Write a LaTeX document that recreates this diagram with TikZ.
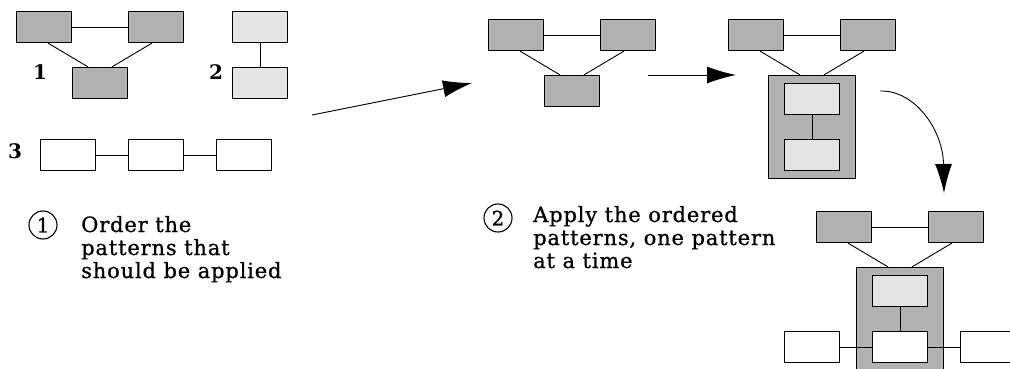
\documentclass[tikz,border=0pt]{standalone}
\usepackage{fontspec}
\newfontfamily\capfont{DejaVu Serif}[LetterSpace=4, FakeBold=0.8]
\newfontfamily\numfont{DejaVu Serif}
\usetikzlibrary{arrows.meta}
\definecolor{darkbox}{gray}{0.70}
\definecolor{lightbox}{gray}{0.90}
\tikzset{
  box/.style={draw, line width=1.2pt, minimum width=55pt, minimum height=31pt, inner sep=0pt},
  dark/.style={box, fill=darkbox},
  light/.style={box, fill=lightbox},
  plain/.style={box, fill=white},
  holder/.style={draw, line width=1.2pt, fill=darkbox, minimum width=87pt, minimum height=103pt, inner sep=0pt},
  link/.style={line width=0.9pt},
  num/.style={font={\numfont\fontsize{20}{20}\selectfont\bfseries}},
  stepmark/.style={draw, circle, line width=1.1pt, minimum size=28pt, inner sep=0pt, font={\capfont\fontsize{20}{20}\selectfont}},
  caption/.style={align=left, anchor=base west, inner sep=0pt, font={\capfont\fontsize{21}{23}\selectfont}}
}
\begin{document}
\begin{tikzpicture}[x=1pt, y=-1pt, >={Latex[length=29pt,width=17pt]}]
\useasboundingbox (0,0) rectangle (1010,369);

% the three patterns
\node[dark] (a1) at (44,27) {};
\node[dark] (a2) at (156,27) {};
\node[dark] (a3) at (100,83) {};
\draw[link] (a1) -- (a2);
\draw[link] ([xshift=4pt]a1.south) -- ([xshift=-12pt]a3.north);
\draw[link] ([xshift=-4pt]a2.south) -- ([xshift=12pt]a3.north);
\node[num] (n1) at (40,72) {1};

\node[light] (b1) at (260,27) {};
\node[light] (b2) at (260,83) {};
\draw[link] (b1) -- (b2);
\node[num] (n2) at (216,72) {2};

\foreach \i/\x in {1/68,2/156,3/244}
  \node[plain] (c\i) at (\x,155) {};
\draw[link] (c1) -- (c2) (c2) -- (c3);
\node[num] (n3) at (15,151) {3};

\node[stepmark] (k1) at (43,225) {1};
\node[caption] (t1) at (81,278) {Order the\\patterns that\\should be applied};

% first pattern applied
\node[dark] (m1) at (516,35) {};
\node[dark] (m2) at (628,35) {};
\node[dark] (m3) at (572,91) {};
\draw[link] (m1) -- (m2);
\draw[link] ([xshift=4pt]m1.south) -- ([xshift=-12pt]m3.north);
\draw[link] ([xshift=-4pt]m2.south) -- ([xshift=12pt]m3.north);

% second pattern applied
\node[dark] (r1) at (756,35) {};
\node[dark] (r2) at (868,35) {};
\node[holder] (rc) at (812,127) {};
\node[light] (rb1) at (812,99) {};
\node[light] (rb2) at (812,155) {};
\draw[link] (r1) -- (r2);
\draw[link] (rb1) -- (rb2);
\draw[link] ([xshift=4pt]r1.south) -- ([xshift=-12pt]rc.north);
\draw[link] ([xshift=-4pt]r2.south) -- ([xshift=12pt]rc.north);

% third pattern applied
\node[dark] (s1) at (844,227) {};
\node[dark] (s2) at (956,227) {};
\node[holder] (sc) at (900,319) {};
\node[light] (st) at (900,291) {};
\node[plain] (sw) at (900,347) {};
\node[plain] (sl) at (812,347) {};
\node[plain] (sr) at (988,347) {};
\draw[link] (s1) -- (s2);
\draw[link] (st) -- (sw);
\draw[link] (sl) -- (sw) (sw) -- (sr);
\draw[link] ([xshift=4pt]s1.south) -- ([xshift=-12pt]sc.north);
\draw[link] ([xshift=-4pt]s2.south) -- ([xshift=12pt]sc.north);

\node[stepmark] (k2) at (498,218) {2};
\node[caption] (t2) at (533,268) {Apply the ordered\\patterns, one pattern\\at a time};

% arrows
\coordinate (p1) at (312,115);
\coordinate (p2) at (472,83);
\coordinate (q1) at (648,75);
\coordinate (q2) at (736,75);
\coordinate (w1) at (880,91);
\coordinate (w2) at (944,193);
\draw[link,->] (p1) -- (p2);
\draw[link,->] (q1) -- (q2);
\draw[link,->] (w1) .. controls (915,90) and (943,130) .. (w2);
\end{tikzpicture}
\end{document}
